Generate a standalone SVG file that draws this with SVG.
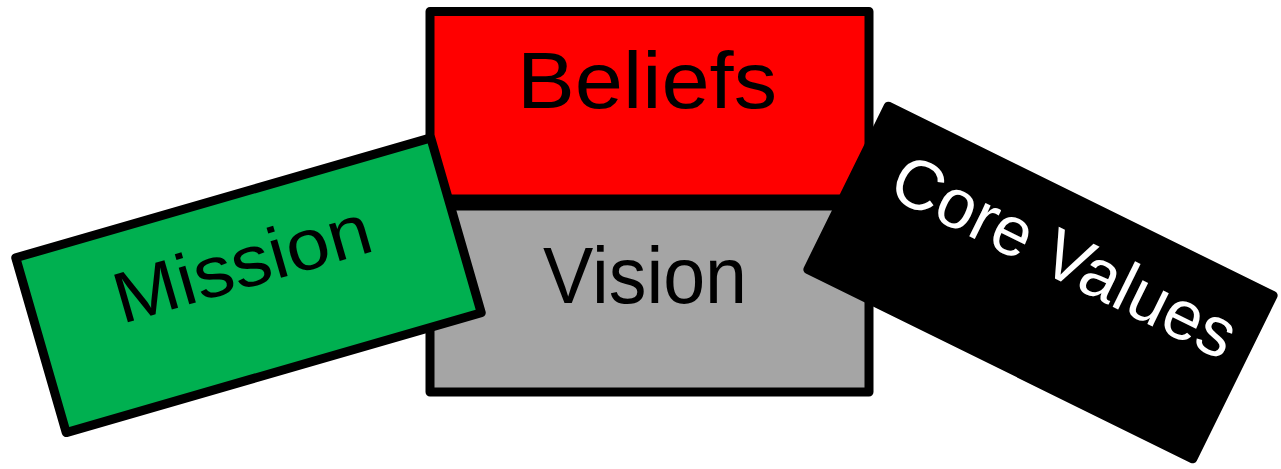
<svg xmlns="http://www.w3.org/2000/svg" width="1281" height="469" viewBox="0 0 1281 469">
<style>
.box{stroke:#000;stroke-width:9;stroke-linejoin:round}
.lbl{font-family:"Liberation Sans",Arial,sans-serif;text-anchor:middle}
</style>
<rect width="1281" height="469" fill="#fff"/>
<g id="beliefs">
<rect class="box" x="430" y="11.5" width="439" height="187.5" fill="#ff0000"/>
<text class="lbl" x="647" y="108" font-size="80" fill="#000" textLength="260" lengthAdjust="spacingAndGlyphs">Beliefs</text>
</g>
<g id="vision">
<rect class="box" x="430" y="206" width="439" height="186" fill="#a5a5a5"/>
<text class="lbl" x="645" y="303" font-size="80" fill="#000" textLength="204" lengthAdjust="spacingAndGlyphs">Vision</text>
</g>
<g id="mission" transform="translate(248.5 285.25) rotate(-16.1)">
<rect class="box" x="-216" y="-91" width="432" height="182" fill="#00b050"/>
<text class="lbl" x="0" y="2" font-size="72" fill="#000" textLength="265" lengthAdjust="spacingAndGlyphs">Mission</text>
</g>
<g id="core-values" transform="translate(1040.5 282.5) rotate(26.2)">
<rect class="box" x="-214.5" y="-91" width="429" height="182" fill="#000"/>
<text class="lbl" x="10" y="-10" font-size="70" fill="#fff" textLength="375" lengthAdjust="spacingAndGlyphs">Core Values</text>
</g>
<g id="connectors"></g>
</svg>
